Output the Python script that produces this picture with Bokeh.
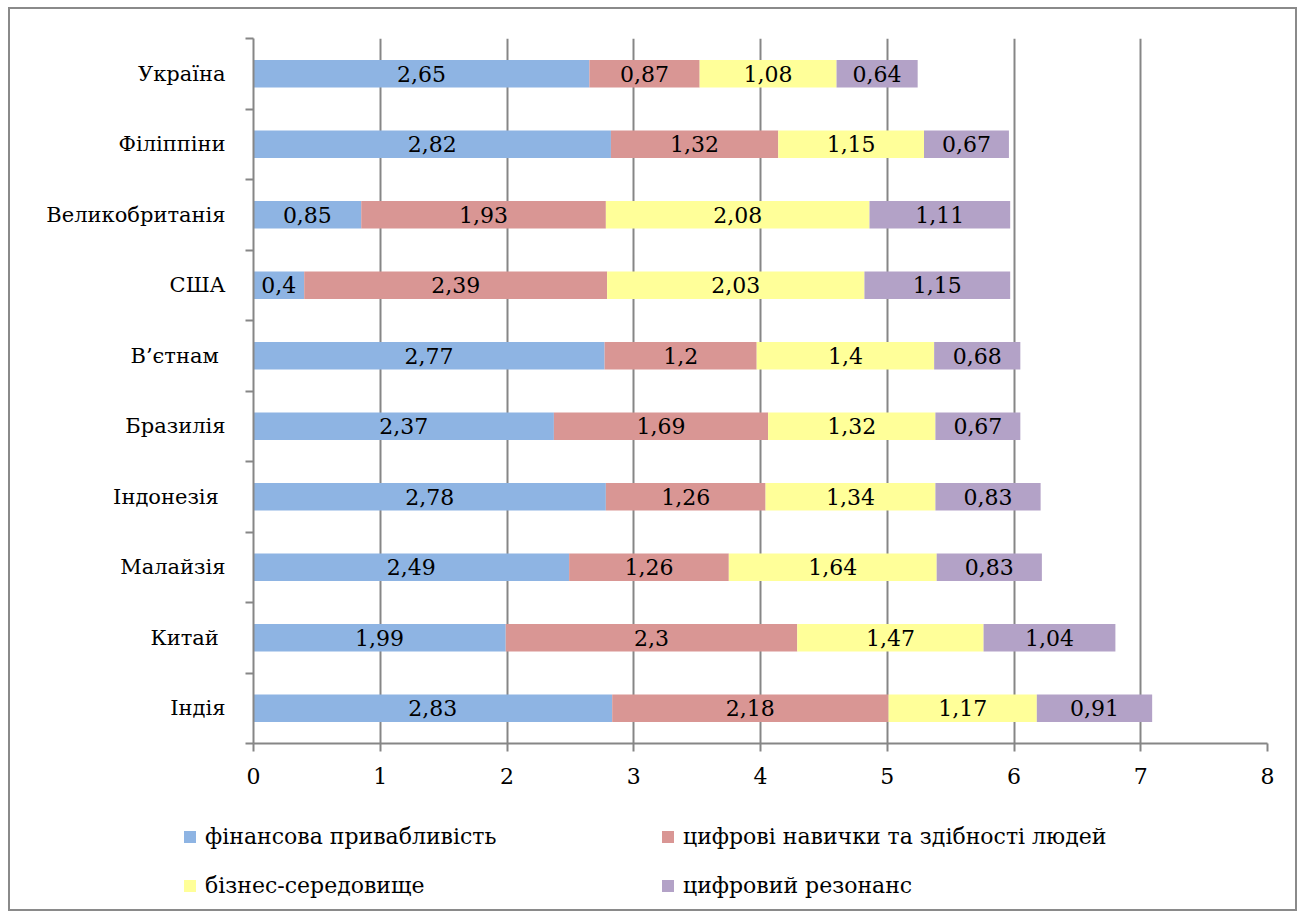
import numpy as np
from bokeh.plotting import figure
from bokeh.models import ColumnDataSource, FixedTicker, Range1d
from bokeh.core.properties import value
from bokeh.embed import file_html
from bokeh.resources import INLINE

# ---------------- data ----------------
countries = ["Україна", "Філіппіни", "Великобританія", "США", "В’єтнам ",
             "Бразилія", "Індонезія ", "Малайзія", "Китай ", "Індія"]
series_names = ["фінансова привабливість", "цифрові навички та здібності людей",
                "бізнес-середовище", "цифровий резонанс"]
financial = [2.65, 2.82, 0.85, 0.40, 2.77, 2.37, 2.78, 2.49, 1.99, 2.83]
digital_skills = [0.87, 1.32, 1.93, 2.39, 1.20, 1.69, 1.26, 1.26, 2.30, 2.18]
business_env = [1.08, 1.15, 2.08, 2.03, 1.40, 1.32, 1.34, 1.64, 1.47, 1.17]
digital_resonance = [0.64, 0.67, 1.11, 1.15, 0.68, 0.67, 0.83, 0.83, 1.04, 0.91]
colors = ["#8EB4E3", "#D99694", "#FFFF99", "#B3A2C7"]
x_ticks = [0, 1, 2, 3, 4, 5, 6, 7, 8]

FONT = "DejaVu Serif"
FS = "22px"
GREY = "#868686"
BORDER = "2px solid #8a8a8a"

n = len(countries)
ypos = np.array([n - 1 - i + 0.5 for i in range(n)])
series = [financial, digital_skills, business_env, digital_resonance]

p = figure(width=1289, height=796, output_backend="svg", toolbar_location=None,
           x_range=Range1d(0, 8), y_range=Range1d(0, n),
           min_border_left=243, min_border_right=32, min_border_top=29,
           min_border_bottom=62, background_fill_color="white",
           border_fill_color="white", outline_line_color=None)
p.styles = {"border-left": BORDER, "border-right": BORDER, "border-top": BORDER,
            "margin-left": "8px", "margin-top": "7px"}

left = np.zeros(n)
label_x, label_y, label_t = [], [], []
for name, vals, col in zip(series_names, series, colors):
    vals = np.array(vals, dtype=float)
    src = ColumnDataSource(dict(y=ypos, left=left.copy(), right=left + vals))
    p.hbar(y="y", left="left", right="right", height=0.39, source=src,
           fill_color=col, line_color=None)
    for i in range(n):
        label_x.append(left[i] + vals[i] / 2)
        label_y.append(ypos[i])
        label_t.append(("%g" % vals[i]).replace(".", ","))
    left = left + vals

p.text(x=label_x, y=label_y, text=label_t, text_font=value(FONT),
       text_font_size=FS, text_align="center", text_baseline="middle",
       text_color="black")

xa = p.xaxis[0]
xa.ticker = FixedTicker(ticks=x_ticks)
xa.axis_line_color = GREY
xa.axis_line_width = 2
xa.major_tick_line_color = GREY
xa.major_tick_line_width = 2
xa.major_tick_in = 0
xa.major_tick_out = 8
xa.minor_tick_line_color = None
xa.major_label_text_font = FONT
xa.major_label_text_font_size = FS
xa.major_label_text_color = "black"
xa.major_label_standoff = 16

ya = p.yaxis[0]
ya.ticker = FixedTicker(ticks=list(ypos), minor_ticks=list(range(n + 1)))
ya.major_label_overrides = {float(y): c for y, c in zip(ypos, countries)}
ya.axis_line_color = GREY
ya.axis_line_width = 2
ya.major_tick_line_color = None
ya.major_tick_in = 0
ya.major_tick_out = 0
ya.minor_tick_line_color = GREY
ya.minor_tick_line_width = 2
ya.minor_tick_in = 0
ya.minor_tick_out = 8
ya.major_label_text_font = FONT
ya.major_label_text_font_size = "21px"
ya.major_label_text_color = "black"
ya.major_label_standoff = 20

p.xgrid.ticker = FixedTicker(ticks=x_ticks)
p.xgrid.grid_line_color = GREY
p.xgrid.grid_line_width = 2
p.ygrid.grid_line_color = None

# ---------------- legend panel (separate root, bars kept out of view) ----------------
lf = figure(width=1289, height=108, output_backend="svg", toolbar_location=None,
            x_range=Range1d(100, 101), y_range=Range1d(100, 101),
            x_axis_type=None, y_axis_type=None, min_border=0,
            outline_line_color=None, background_fill_color="white",
            border_fill_color="white")
lf.styles = {"border-left": BORDER, "border-right": BORDER, "border-bottom": BORDER,
             "margin-left": "8px"}
order = [0, 2, 1, 3]
left = np.zeros(n)
lefts = []
for vals in series:
    lefts.append(left.copy())
    left = left + np.array(vals, dtype=float)
for k in order:
    vals = np.array(series[k], dtype=float)
    lf.hbar(y=ypos, left=lefts[k], right=lefts[k] + vals, height=0.39,
            fill_color=colors[k], line_color=None, legend_label=series_names[k])
lg = lf.legend[0]
lg.ncols = 2
lg.location = (172, 11)
lg.padding = 0
lg.margin = 0
lg.spacing = 19
lg.glyph_width = 15
lg.glyph_height = 15
lg.label_standoff = 8
lg.label_width = 436
lg.label_height = 30
lg.label_text_font = FONT
lg.label_text_font_size = FS
lg.label_text_color = "black"
lg.border_line_color = None
lg.background_fill_alpha = 0

open("out.html", "w").write(file_html([p, lf], INLINE))
